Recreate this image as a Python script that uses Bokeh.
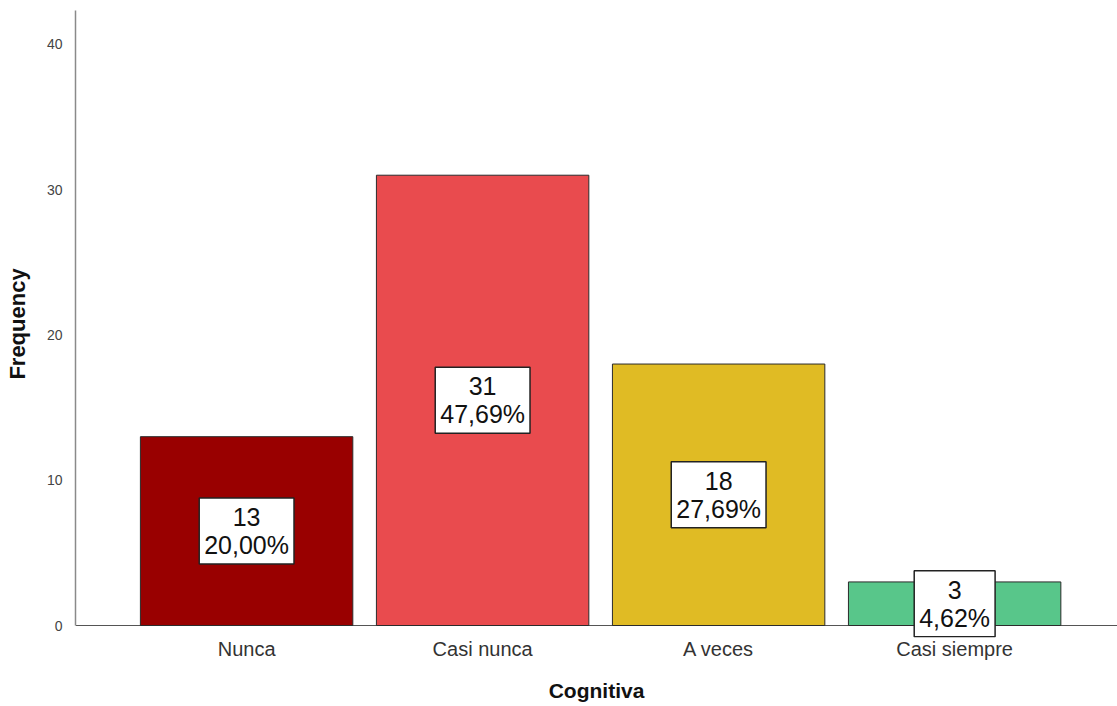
from bokeh.plotting import figure
from bokeh.models import Range1d, FixedTicker, ColumnDataSource, Span
from bokeh.core.properties import value
from bokeh.embed import file_html
from bokeh.resources import INLINE

categories = ["Nunca", "Casi nunca", "A veces", "Casi siempre"]
counts = [13, 31, 18, 3]
percents = ["20,00%", "47,69%", "27,69%", "4,62%"]
colors = ["#990000", "#e94b4e", "#e0bb24", "#58c68a"]
y_ticks = [0, 10, 20, 30, 40]

xs = list(range(len(categories)))
labels = [f"{c}\n{pc}" for c, pc in zip(counts, percents)]
src = ColumnDataSource(dict(x=xs, top=counts, color=colors, label=labels,
                            mid=[c / 2 for c in counts]))

FONT = "Liberation Sans"
Y_TOP = 42.34
p = figure(width=1117, height=706, output_backend="svg", toolbar_location=None,
           x_range=Range1d(-0.725, 3.69), y_range=Range1d(-0.826, Y_TOP),
           min_border_left=75, min_border_top=10, min_border_bottom=69, min_border_right=0)
p.outline_line_color = None
p.xgrid.grid_line_color = None
p.ygrid.grid_line_color = None
p.background_fill_color = "white"
p.border_fill_color = "white"

# baseline (x axis line at zero)
p.add_layout(Span(location=0, dimension="width", line_color="#555555",
                  line_width=1, level="underlay"))

p.vbar(x="x", top="top", bottom=0, width=0.9, fill_color="color",
       line_color="#2b2b2b", line_width=1, source=src)

p.text(x="x", y="mid", text="label", source=src, text_font=value(FONT),
       text_font_size="25px", text_color="#111111", text_align="center",
       text_baseline="middle", text_line_height=1.0,
       background_fill_color="white", border_line_color="#222222",
       border_line_width=1.5, padding=(5, 5))

# y axis
ya = p.yaxis[0]
ya.ticker = FixedTicker(ticks=y_ticks)
ya.bounds = (0, Y_TOP)
ya.axis_label = "Frequency"
ya.axis_label_text_font = FONT
ya.axis_label_text_font_style = "bold"
ya.axis_label_text_font_size = "22px"
ya.axis_label_text_color = "#111111"
ya.axis_label_standoff = 14
ya.major_label_text_font = FONT
ya.major_label_text_font_size = "14px"
ya.major_label_text_color = "#444444"
ya.major_label_standoff = 7
ya.major_tick_line_color = None
ya.minor_tick_line_color = None
ya.axis_line_color = "#8a8a8a"
ya.axis_line_width = 1.5

# x axis
xa = p.xaxis[0]
xa.ticker = FixedTicker(ticks=xs)
xa.major_label_overrides = {i: c for i, c in zip(xs, categories)}
xa.axis_label = "Cognitiva"
xa.axis_label_text_font = FONT
xa.axis_label_text_font_style = "bold"
xa.axis_label_text_font_size = "21px"
xa.axis_label_text_color = "#111111"
xa.axis_label_standoff = 16
xa.major_label_text_font = FONT
xa.major_label_text_font_size = "20px"
xa.major_label_text_color = "#333333"
xa.major_label_standoff = -6
xa.major_tick_line_color = None
xa.minor_tick_line_color = None
xa.axis_line_color = None

open("out.html", "w").write(file_html(p, INLINE))
